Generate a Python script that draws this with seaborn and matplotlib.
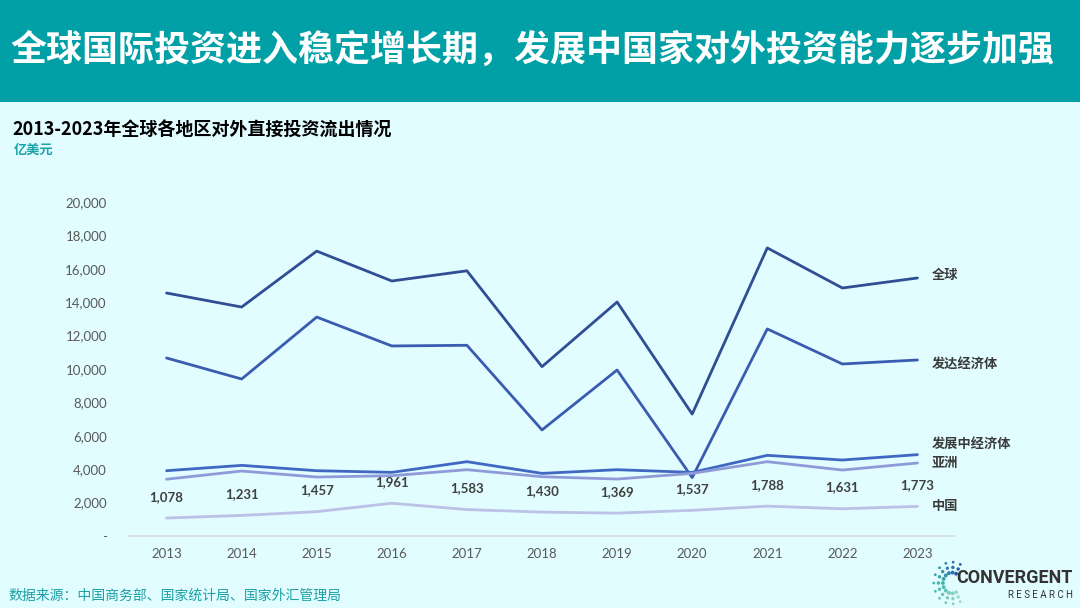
import numpy as np
import pandas as pd
import seaborn as sns
import matplotlib.pyplot as plt

years = list(range(2013, 2024))
world = [14550, 13710, 17060, 15270, 15880, 10140, 14010, 7300, 17250, 14850, 15450]
developed = [10660, 9400, 13110, 11380, 11420, 6350, 9940, 3500, 12400, 10300, 10540]
developing = [3910, 4230, 3910, 3810, 4450, 3750, 3970, 3810, 4830, 4550, 4870]
asia = [3400, 3890, 3530, 3610, 3970, 3550, 3410, 3750, 4450, 3950, 4370]
china = [1078, 1231, 1457, 1961, 1583, 1430, 1369, 1537, 1788, 1631, 1773]

series_names = ["全球", "发达经济体", "发展中经济体", "亚洲", "中国"]
colors = ["#2F4E94", "#3A5CB0", "#4068C2", "#8F9BD8", "#BCC1E8"]
# label y offsets (points) so end labels don't collide
label_dy = [2, -3, 8, 0, 0]

bg = "#E2FDFF"
teal = "#00A0A6"

df = pd.DataFrame({"year": years * 5,
                   "value": world + developed + developing + asia + china,
                   "series": sum([[n] * len(years) for n in series_names], [])})

sns.set_theme(style="white")
plt.rcParams["font.family"] = ["Noto Sans CJK SC", "DejaVu Sans"]

fig = plt.figure(figsize=(10.8, 6.08), dpi=100, facecolor=bg)
ax = fig.add_axes([129 / 1080, 1 - 536 / 608, 826 / 1080, 334 / 608])
ax.set_facecolor(bg)

sns.lineplot(data=df, x="year", y="value", hue="series", palette=colors,
             hue_order=series_names, linewidth=2, legend=False, ax=ax)

ax.set_xlim(2012.5, 2023.5)
ax.set_ylim(0, 20000)
ax.set_xticks(years)
ax.set_xticklabels([str(y) for y in years], family=["Lato", "DejaVu Sans"],
                   fontsize=9.5, color="#595959")
yt = list(range(0, 20001, 2000))
ax.set_yticks(yt)
ax.set_yticklabels(["-"] + [f"{v:,}" for v in yt[1:]], family=["Lato", "DejaVu Sans"],
                   fontsize=9.5, color="#595959")
ax.tick_params(axis="y", length=0, pad=16)
ax.tick_params(axis="x", length=0, pad=9)
ax.set_xlabel("")
ax.set_ylabel("")
for s in ["top", "right", "left"]:
    ax.spines[s].set_visible(False)
ax.spines["bottom"].set_color("#D6DCDE")
ax.spines["bottom"].set_linewidth(1.2)

# China data labels
for x, v in zip(years, china):
    ax.annotate(f"{v:,}", (x, v), xytext=(0, 11), textcoords="offset points",
                ha="center", va="bottom", fontsize=9.5, fontweight="bold",
                color="#404040", family=["Lato", "DejaVu Sans"])

# series end labels
for name, vals, dy in zip(series_names, [world, developed, developing, asia, china], label_dy):
    ax.annotate(name, (years[-1], vals[-1]), xytext=(10, dy), textcoords="offset points",
                ha="left", va="center", fontsize=9.5, fontweight="bold", color="#3A3A3A",
                annotation_clip=False)

# header band
fig.patches.append(plt.Rectangle((0, 1 - 102 / 608), 1, 102 / 608, transform=fig.transFigure,
                                 facecolor=teal, edgecolor="none", zorder=0))
fig.text(10 / 1080, 1 - 50 / 608, "全球国际投资进入稳定增长期，发展中国家对外投资能力逐步加强",
         color="white", fontsize=25.9, fontweight="heavy", va="center", ha="left")

fig.text(12 / 1080, 1 - 130 / 608, "2013-2023年全球各地区对外直接投资流出情况",
         color="black", fontsize=13, fontweight="bold", va="center", ha="left")
fig.text(14 / 1080, 1 - 150 / 608, "亿美元", color="#1AA3A8", fontsize=9.5,
         fontweight="bold", style="italic", va="center", ha="left")
fig.text(8 / 1080, 1 - 596 / 608, "数据来源：中国商务部、国家统计局、国家外汇管理局",
         color="#1AA0A5", fontsize=10, va="center", ha="left")

# logo
fig.text(1073 / 1080, 1 - 578 / 608, "CONVERGENT", color="#333333", fontsize=13,
         fontweight="bold", family=["Roboto", "DejaVu Sans"], ha="right", va="center")
fig.text(1073 / 1080, 1 - 595 / 608, "R E S E A R C H", color="#333333", fontsize=7,
         family=["Roboto", "DejaVu Sans"], ha="right", va="center")
lax = fig.add_axes([932 / 1080, 1 - 606 / 608, 40 / 1080, 46 / 608])
lax.set_xlim(-1.1, 1.1)
lax.set_ylim(-1.1, 1.1)
lax.axis("off")
ang = np.linspace(0.35 * np.pi, 1.65 * np.pi, 11)
dot_cols = sns.color_palette("blend:#2E5DB0,#3DB6A8,#9AD9C8", 11)
for r, sz in [(1.0, 4), (0.75, 6), (0.5, 8)]:
    lax.scatter(r * np.cos(ang), r * np.sin(ang), s=sz, c=dot_cols, linewidths=0)

fig.savefig("out.png", dpi=100, facecolor=bg)
